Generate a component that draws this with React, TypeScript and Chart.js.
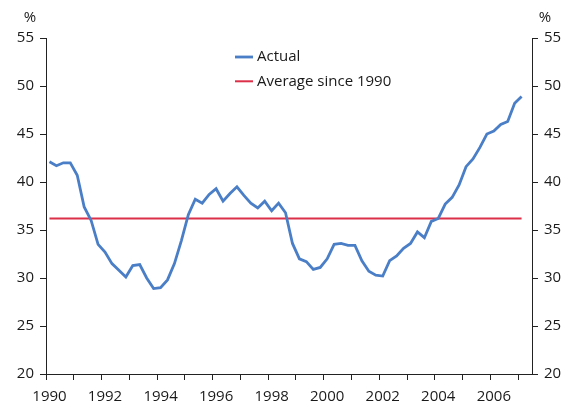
import React, { useEffect, useRef } from "react";
import { Chart, registerables } from "chart.js";

Chart.register(...registerables);

// Quarterly categories 1990 Q1 .. 2007 Q2 (axis extends to mid-2007)
const firstYear = 1990;
const lastYear = 2007;
const quarterCategories: string[] = [];
for (let y = firstYear; y <= lastYear; y++) {
  for (let q = 1; q <= 4; q++) quarterCategories.push(`${y} Q${q}`);
}
const categories = quarterCategories.slice(0, 70);

// Actual (%), quarterly from 1990 Q1
const actual: number[] = [
  42.1, 41.7, 42.0, 42.0, 40.7, 37.4, 36.0, 33.5, 32.7, 31.5,
  30.8, 30.1, 31.3, 31.4, 30.0, 28.9, 29.0, 29.8, 31.5, 33.9,
  36.6, 38.2, 37.8, 38.7, 39.3, 38.0, 38.8, 39.5, 38.6, 37.8,
  37.3, 38.0, 37.0, 37.8, 36.8, 33.6, 32.0, 31.7, 30.9, 31.1,
  32.0, 33.5, 33.6, 33.4, 33.4, 31.8, 30.7, 30.3, 30.2, 31.8,
  32.3, 33.1, 33.6, 34.8, 34.2, 35.9, 36.2, 37.7, 38.4, 39.7,
  41.6, 42.4, 43.6, 45.0, 45.3, 46.0, 46.3, 48.2, 48.9,
];

const averageSince1990 = 36.2;
const average: number[] = actual.map(() => averageSince1990);

const seriesLabels = ["Actual", "Average since 1990"];
const yMin = 20;
const yMax = 55;
const yStep = 5;
const unitLabel = "%";

const TEXT = "#1a1a1a";
const AXIS = "#222222";
const BLUE = "#4a7ec6";
const RED = "#dc2f48";
const FONT = "'Open Sans', 'Noto Sans', sans-serif";

const overlayPlugin = {
  id: "overlay",
  afterDraw(chart: any) {
    const ctx = chart.ctx;
    const area = chart.chartArea;
    ctx.save();
    ctx.font = `15px ${FONT}`;
    ctx.fillStyle = TEXT;
    ctx.textBaseline = "middle";
    // % labels
    ctx.textAlign = "center";
    ctx.fillText(unitLabel, area.left - 16, area.top - 20);
    ctx.fillText(unitLabel, area.right + 13, area.top - 20);
    // legend
    const lx = area.left + 189;
    chart.data.datasets.forEach((ds: any, i: number) => {
      const y = area.top + 19 + i * 24.3;
      ctx.strokeStyle = ds.borderColor;
      ctx.lineWidth = ds.borderWidth;
      ctx.beginPath();
      ctx.moveTo(lx, y);
      ctx.lineTo(lx + 18, y);
      ctx.stroke();
      ctx.fillStyle = TEXT;
      ctx.textAlign = "left";
      ctx.fillText(ds.label, lx + 22, y);
    });
    ctx.restore();
  },
};

export default function App() {
  const canvasRef = useRef<HTMLCanvasElement | null>(null);

  useEffect(() => {
    if (!canvasRef.current) return;
    Chart.defaults.font.family = FONT;
    Chart.defaults.font.size = 15;
    Chart.defaults.color = TEXT;

    const yAxisCommon = (position: "left" | "right", width: number) => ({
      type: "linear" as const,
      position,
      min: yMin,
      max: yMax,
      afterFit: (scale: any) => {
        scale.width = width;
      },
      ticks: { stepSize: yStep, padding: 6, color: TEXT, font: { size: 15 } },
      grid: {
        drawOnChartArea: false,
        drawTicks: true,
        tickLength: 6,
        tickColor: AXIS,
      },
      border: { display: true, color: AXIS, width: 1 },
    });

    const chart = new Chart(canvasRef.current, {
      type: "line",
      data: {
        labels: categories,
        datasets: [
          {
            label: seriesLabels[0],
            data: actual,
            borderColor: BLUE,
            backgroundColor: BLUE,
            borderWidth: 2.8,
            pointRadius: 0,
            tension: 0,
            yAxisID: "y",
          },
          {
            label: seriesLabels[1],
            data: average,
            borderColor: RED,
            backgroundColor: RED,
            borderWidth: 2,
            pointRadius: 0,
            tension: 0,
            yAxisID: "y",
          },
        ],
      },
      options: {
        responsive: false,
        animation: false,
        devicePixelRatio: 1,
        layout: { padding: { top: 38, left: 0, right: 0, bottom: 0 } },
        plugins: {
          legend: { display: false },
          tooltip: { enabled: false },
        },
        scales: {
          x: {
            type: "category",
            offset: true,
            afterFit: (scale: any) => {
              scale.height = 32;
            },
            grid: {
              offset: true,
              drawOnChartArea: false,
              drawTicks: true,
              tickLength: 6,
              tickColor: (c: any) =>
                c.index % 4 === 0 ? AXIS : "rgba(0,0,0,0)",
            },
            border: { display: true, color: AXIS, width: 1 },
            ticks: {
              autoSkip: false,
              maxRotation: 0,
              minRotation: 0,
              padding: 8,
              color: TEXT,
              font: { size: 15 },
              callback: function (this: any, value: any) {
                const lab: string = this.getLabelForValue(value);
                const [yr, q] = lab.split(" ");
                return q === "Q1" && Number(yr) % 2 === 0 ? yr : "";
              },
            },
          },
          y: yAxisCommon("left", 46),
          y2: yAxisCommon("right", 33),
        },
      },
      plugins: [overlayPlugin],
    } as any);

    return () => chart.destroy();
  }, []);

  return (
    <div style={{ position: "absolute", left: 0, top: 0, width: 565, height: 406, background: "#fff" }}>
      <canvas ref={canvasRef} width={565} height={406} />
    </div>
  );
}
